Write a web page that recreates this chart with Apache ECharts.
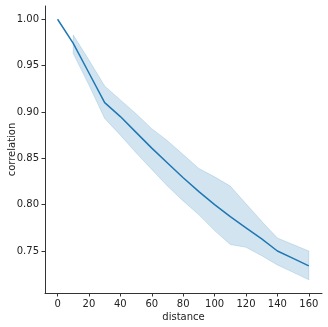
<!DOCTYPE html>
<html>
<head>
<meta charset="utf-8">
<script src="https://cdn.jsdelivr.net/npm/echarts@6/dist/echarts.min.js"></script>
<style>
  html, body { margin: 0; padding: 0; background: #fff; }
  #chart { width: 328px; height: 327px; }
</style>
</head>
<body>
<div id="chart"></div>
<script>
var distance = [0, 10, 20, 30, 40, 50, 60, 70, 80, 90, 100, 110, 120, 130, 140, 150, 160];
var corr     = [1.000, 0.974, 0.942, 0.910, 0.895, 0.878, 0.861, 0.845, 0.829, 0.814, 0.800, 0.787, 0.775, 0.763, 0.750, 0.742, 0.734];

// confidence band (no band at distance 0)
var ciDistance = [10, 20, 30, 40, 50, 60, 70, 80, 90, 100, 110, 120, 130, 140, 150, 160];
var ciLow  = [0.963, 0.929, 0.893, 0.875, 0.856, 0.838, 0.820, 0.804, 0.789, 0.772, 0.757, 0.754, 0.745, 0.735, 0.727, 0.719];
var ciHigh = [0.983, 0.956, 0.928, 0.913, 0.898, 0.882, 0.869, 0.854, 0.839, 0.830, 0.820, 0.801, 0.782, 0.764, 0.757, 0.750];

var xTicks = [0, 20, 40, 60, 80, 100, 120, 140, 160];
var yTicks = [0.75, 0.80, 0.85, 0.90, 0.95, 1.00];

var chart = echarts.init(document.getElementById('chart'));

var lineData = distance.map(function(d, i){ return [d, corr[i]]; });
var bandData = ciDistance.map(function(d, i){ return [d, ciLow[i], ciHigh[i]]; });

var font = 'DejaVu Sans';

function renderBand(params, api){
  if (params.dataIndex !== 0) return;
  var top = [], bottom = [];
  for (var i = 0; i < bandData.length; i++) {
    top.push(api.coord([bandData[i][0], bandData[i][2]]));
    bottom.unshift(api.coord([bandData[i][0], bandData[i][1]]));
  }
  return {
    type: 'polygon',
    shape: { points: top.concat(bottom) },
    style: { fill: 'rgba(31,119,180,0.2)', stroke: 'rgba(31,119,180,0.22)', lineWidth: 0.8 }
  };
}

var option = {
  animation: false,
  grid: { left: 45, right: 6, top: 6, bottom: 34, outerBoundsMode: 'none', containLabel: false },
  xAxis: {
    type: 'value',
    min: -8,
    max: 168.4,
    name: 'distance',
    nameLocation: 'middle',
    nameGap: 19,
    nameMoveOverlap: false,
    nameTextStyle: { color: '#222', fontSize: 10, fontFamily: font },
    splitLine: { show: false },
    axisLine: { onZero: false, lineStyle: { color: '#333', width: 1 } },
    axisTick: { show: true, length: 3.5, customValues: xTicks, lineStyle: { color: '#333' } },
    axisLabel: { customValues: xTicks, margin: 6, color: '#222', fontSize: 10, fontFamily: font }
  },
  yAxis: {
    type: 'value',
    min: 0.7047,
    max: 1.0143,
    name: 'correlation',
    nameLocation: 'middle',
    nameGap: 28,
    nameMoveOverlap: false,
    nameTextStyle: { color: '#222', fontSize: 10, fontFamily: font },
    splitLine: { show: false },
    axisLine: { show: true, onZero: false, lineStyle: { color: '#333', width: 1 } },
    axisTick: { show: true, length: 3.5, customValues: yTicks, lineStyle: { color: '#333' } },
    axisLabel: {
      customValues: yTicks, margin: 6, color: '#222', fontSize: 10, fontFamily: font,
      formatter: function(v){ return v.toFixed(2); }
    }
  },
  series: [
    {
      name: 'ci',
      type: 'custom',
      data: bandData,
      encode: { x: 0, y: [1, 2] },
      renderItem: renderBand,
      z: 1
    },
    {
      name: 'correlation',
      type: 'line',
      data: lineData,
      symbol: 'none',
      lineStyle: { color: '#1f77b4', width: 1.5 },
      z: 5
    }
  ]
};

chart.setOption(option);
</script>
</body>
</html>
